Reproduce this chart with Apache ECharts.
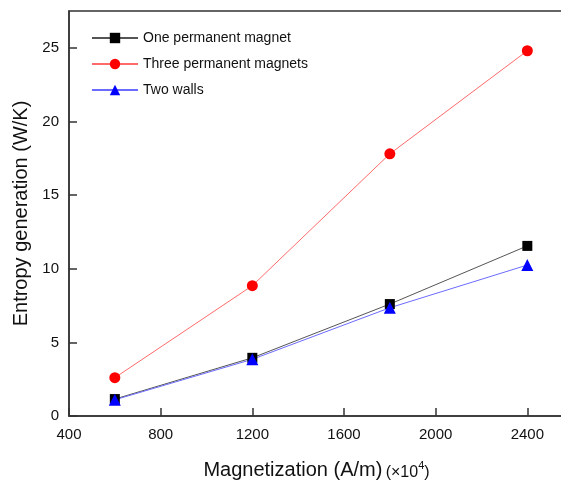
<!DOCTYPE html>
<html>
<head>
<meta charset="utf-8">
<script src="https://cdn.jsdelivr.net/npm/echarts@6/dist/echarts.min.js"></script>
<style>
  html, body { margin: 0; padding: 0; background: #fff; }
  #chart { width: 561px; height: 482px; }
</style>
</head>
<body>
<div id="chart"></div>
<script>
// Magnetization values (×10^4 A/m)
const magnetization = [600, 1200, 1800, 2400];
// Entropy generation (W/K) for each configuration
const onePermanentMagnet = [1.15, 3.95, 7.6, 11.55];
const threePermanentMagnets = [2.6, 8.85, 17.8, 24.8];
const twoWalls = [1.1, 3.85, 7.35, 10.25];

const seriesNames = ['One permanent magnet', 'Three permanent magnets', 'Two walls'];

const font = 'Liberation Sans, Arial, sans-serif';

function pairs(ys) {
  return magnetization.map((x, i) => [x, ys[i]]);
}

const chart = echarts.init(document.getElementById('chart'));
chart.setOption({
  animation: false,
  backgroundColor: '#fff',
  grid: {
    left: 69, top: 11, right: -3, bottom: 66,
    outerBoundsMode: 'none', containLabel: false,
    show: true, borderColor: '#333', borderWidth: 1.5
  },
  legend: {
    left: 86, top: 26, orient: 'vertical',
    itemWidth: 46, itemHeight: 13, itemGap: 12,
    textStyle: { fontFamily: font, fontSize: 14, color: '#111' },
    data: seriesNames
  },
  xAxis: {
    type: 'value', min: 400, max: 2560, interval: 400,
    axisLine: { show: true, lineStyle: { color: '#333', width: 1.5 } },
    axisTick: { show: true, inside: true, length: 8, lineStyle: { color: '#333', width: 1.5 } },
    splitLine: { show: false },
    axisLabel: { fontFamily: font, fontSize: 15, color: '#111', margin: 11, showMaxLabel: false,
      formatter: v => (v % 400 === 0 ? String(v) : '') },
    name: '{a|Magnetization (A/m)} {b|(×10}{c|4}{b|)}',
    nameLocation: 'middle', nameGap: 44,
    nameTextStyle: {
      rich: {
        a: { fontFamily: font, fontSize: 20, color: '#111' },
        b: { fontFamily: font, fontSize: 16, color: '#111', padding: [4, 0, 0, 0] },
        c: { fontFamily: font, fontSize: 11, color: '#111', padding: [0, 0, 10, 0] }
      }
    }
  },
  yAxis: {
    type: 'value', min: 0, max: 27.5, interval: 5,
    axisLine: { show: true, lineStyle: { color: '#333', width: 1.5 } },
    axisTick: { show: true, inside: true, length: 8, lineStyle: { color: '#333', width: 1.5 } },
    splitLine: { show: false },
    axisLabel: { fontFamily: font, fontSize: 15, color: '#111', margin: 10, showMaxLabel: false,
      formatter: v => (v % 5 === 0 ? String(v) : '') },
    name: 'Entropy generation (W/K)',
    nameLocation: 'middle', nameGap: 32, nameRotate: 90,
    nameTextStyle: { fontFamily: font, fontSize: 20, color: '#111' }
  },
  series: [
    {
      name: seriesNames[0], type: 'line', data: pairs(onePermanentMagnet),
      symbol: 'rect', symbolSize: 10,
      itemStyle: { color: '#000' },
      lineStyle: { color: '#555', width: 1 }
    },
    {
      name: seriesNames[1], type: 'line', data: pairs(threePermanentMagnets),
      symbol: 'circle', symbolSize: 11,
      itemStyle: { color: '#ff0000' },
      lineStyle: { color: '#ff6b6b', width: 1 }
    },
    {
      name: seriesNames[2], type: 'line', data: pairs(twoWalls),
      symbol: 'triangle', symbolSize: 12,
      itemStyle: { color: '#0000ff' },
      lineStyle: { color: '#6b6bff', width: 1 }
    }
  ]
});
</script>
</body>
</html>
